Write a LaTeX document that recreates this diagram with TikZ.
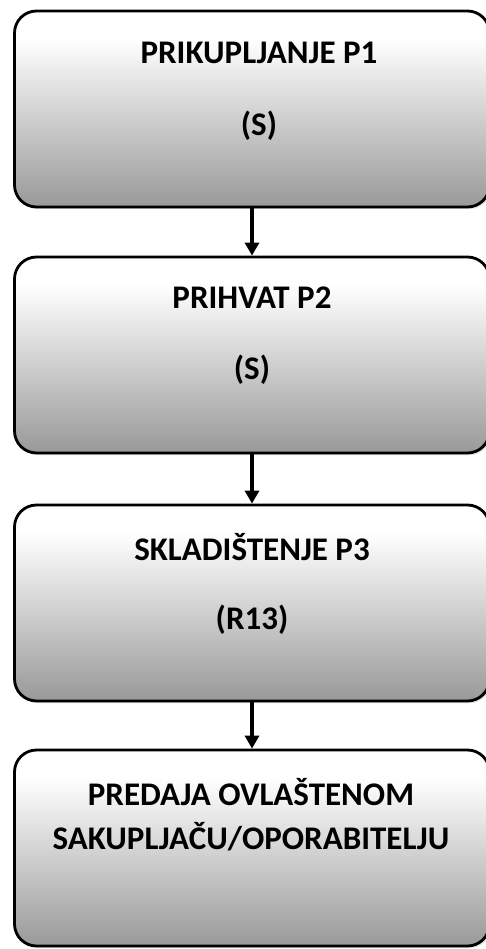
\documentclass[tikz,border=0pt]{standalone}
\usepackage{fontspec}
\setmainfont{Carlito}
\usetikzlibrary{arrows.meta,shadows,positioning}

\pgfdeclareverticalshading{stepshade}{100bp}{color(0bp)=(black!40); color(25bp)=(black!40); color(68bp)=(white); color(100bp)=(white)}

\tikzset{
    stepbox/.style={draw=black, line width=2.8pt, rounded corners=22pt,
        shading=stepshade, minimum width=475pt, minimum height=196pt,
        drop shadow={shadow xshift=2pt, shadow yshift=-2pt, fill=black!25, opacity=0.5}},
    steptext/.style={font=\bfseries\fontsize{33}{38}\selectfont, inner sep=0pt},
    flowarrow/.style={line width=3.2pt, -{Triangle[width=14pt,length=13pt]}}
}

\begin{document}
\begin{tikzpicture}[x=1pt,y=-1pt]
    \useasboundingbox (0,0) rectangle (485,949);

    % Boxes
    \node[stepbox] (p1) at (252,109) {};
    \node[stepbox] (p2) at (252,355) {};
    \node[stepbox] (p3) at (252,603) {};
    \node[stepbox] (p4) at (252,848) {};

    % Texts
    \node[steptext] (p1t) at (259,53) {PRIKUPLJANJE P1};
    \node[steptext] (p1s) at (259,126) {(S)};
    \node[steptext] (p2t) at (252,298) {PRIHVAT P2};
    \node[steptext] (p2s) at (252,370) {(S)};
    \node[steptext] (p3t) at (252,547) {SKLADIŠTENJE P3};
    \node[steptext] (p3s) at (252,620) {(R13)};
    \node[steptext] (p4t) at (251,792) {PREDAJA OVLAŠTENOM};
    \node[steptext] (p4s) at (251,837) {SAKUPLJAČU/OPORABITELJU};

    % Arrows
    \draw[flowarrow] (p1) -- (p2);
    \draw[flowarrow] (p2) -- (p3);
    \draw[flowarrow] (p3) -- (p4);
\end{tikzpicture}
\end{document}
